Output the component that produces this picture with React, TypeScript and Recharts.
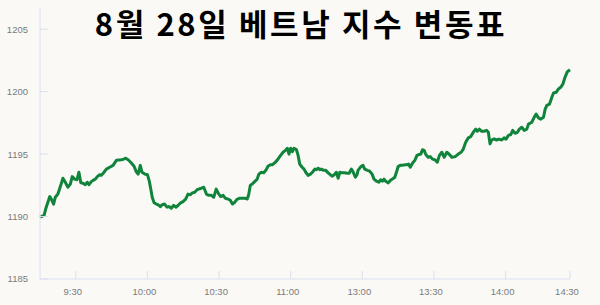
import { Line, LineChart, XAxis, YAxis } from "recharts";

// minutes since 9:15, lunch break collapsed (11:30 == 13:00)
const minutes = [
  0, 1.7, 2.6, 4.1, 5.0, 5.7, 6.4, 7.5, 8.7, 9.6, 10.6, 11.7, 12.7, 13.5, 14.5, 15.5, 16.3, 17.1, 18.0, 19.0,
  19.8, 20.5, 21.5, 22.2, 23.2, 24.0, 25.0, 25.7, 26.8, 27.8, 29.2, 30.6, 32.0,
  34.1, 35.1, 35.9, 36.9, 38.0, 39.4, 40.3, 41.1, 42.0, 42.7, 43.9, 45.0, 45.7, 46.4, 47.0, 47.8, 48.7, 49.4,
  50.4, 51.2, 52.2, 53.2, 54.0, 55.0, 56.0, 56.9, 57.8, 58.9, 59.9, 61.0, 62.0, 63.0, 63.8, 64.8, 65.8,
  67.6, 68.6, 69.7, 70.7, 71.8, 72.8, 73.8, 74.9, 75.7, 76.7, 77.6, 78.8, 79.7, 80.6, 81.6, 82.5, 83.7, 84.8,
  85.8, 86.8, 87.4, 88.1, 88.9, 89.9, 90.9, 91.7, 92.7, 93.7, 94.6, 95.5, 96.5, 97.3, 98.3, 99.3,
  100.8, 101.8, 102.8, 103.6, 104.3, 105.0, 105.7, 106.4, 107.4, 108.1, 108.8, 109.8, 110.6, 111.3, 112.3,
  113.3, 114.1, 115.1, 115.8, 116.5, 117.2, 117.8, 118.8, 119.7, 120.7, 121.6, 122.5, 123.5, 124.1, 124.9,
  125.6, 126.5, 127.7, 128.6, 129.5, 130.4, 131.1, 132.1, 132.8,
  133.2, 134.4, 135.3, 136.0, 137.2, 138.1, 139.1, 139.9, 140.9, 141.9, 142.7, 143.4, 144.1, 144.8, 145.8,
  146.8, 147.6, 148.6, 149.3, 150.0, 150.9, 151.8, 152.8, 153.7, 154.4, 155.1, 156.0, 157.0, 157.9, 158.8,
  159.5, 160.2, 160.9, 161.6, 162.6, 163.5, 164.4, 165.4, 166.4,
  167.3, 168.3, 169.3, 170.4, 171.5, 172.5, 173.9, 175.2, 176.4, 177.3, 178.3, 179.4, 180.4, 181.5, 182.5,
  183.2, 184.0, 185.0, 186.0, 187.1, 187.8, 188.5, 189.2, 190.2, 191.3, 192.3, 193.4, 194.4, 195.2, 196.2,
  197.2, 198.0, 199.0, 200.0, 200.8, 201.8, 202.8, 203.9, 204.6, 206.0, 207.0, 207.8, 208.8, 209.8, 210.9,
  211.6, 212.3, 213.4, 214.4, 215.1, 216.2, 217.1, 218.1, 219.0, 219.9, 220.9, 222.0,
];

const vnIndex = [
  1189.95, 1190.1, 1190.75, 1191.6, 1191.3, 1191.0, 1191.55, 1191.8, 1192.5, 1193.07, 1192.75, 1192.35, 1192.6,
  1193.2, 1193.0, 1192.95, 1193.55, 1192.7, 1192.67, 1192.55, 1192.75, 1192.55, 1192.8, 1192.9, 1193.0, 1193.2,
  1193.35, 1193.3, 1193.55, 1193.8, 1193.95, 1194.1, 1194.5,
  1194.55, 1194.6, 1194.67, 1194.55, 1194.35, 1194.03, 1193.6, 1193.4, 1194.1, 1193.55, 1193.4, 1193.35, 1192.9,
  1192.2, 1191.55, 1191.1, 1191.0, 1190.95, 1190.8, 1190.95, 1191.0, 1190.75, 1190.8, 1190.67, 1190.9, 1190.75,
  1190.88, 1191.1, 1191.2, 1191.4, 1191.8, 1191.75, 1191.9, 1191.95, 1192.15,
  1192.27, 1192.35, 1191.8, 1191.7, 1191.7, 1191.55, 1192.2, 1191.8, 1191.6, 1191.7, 1191.47, 1191.4, 1191.3,
  1191.0, 1191.15, 1191.37, 1191.47, 1191.47, 1191.47, 1191.4, 1191.75, 1192.5, 1192.6, 1192.8, 1192.97, 1193.4,
  1193.55, 1193.5, 1193.7, 1194.03, 1194.15, 1194.15, 1194.3, 1194.5,
  1194.9, 1195.15, 1195.3, 1195.47, 1195.0, 1195.47, 1195.2, 1195.47, 1195.37, 1194.9, 1194.2, 1193.95, 1193.8,
  1193.55, 1193.3, 1193.4, 1193.55, 1193.8, 1193.75, 1193.87, 1193.75, 1193.8, 1193.7, 1193.7, 1193.5, 1193.35,
  1193.23, 1193.4, 1193.55, 1193.07, 1193.55, 1193.5, 1193.5, 1193.47, 1193.47, 1193.8, 1193.6, 1193.15, 1193.35,
  1193.7, 1194.0, 1194.1, 1193.8, 1193.7, 1193.63, 1193.4, 1193.0, 1192.83, 1192.75, 1192.95, 1192.83, 1193.0,
  1192.83, 1192.7, 1192.9, 1193.0, 1193.15, 1193.55, 1194.0, 1194.1, 1194.1, 1194.15, 1194.15, 1194.2, 1193.95,
  1194.27, 1194.5, 1194.9, 1194.97, 1195.0, 1195.35, 1195.3, 1194.97, 1194.75, 1194.8, 1194.6, 1194.55, 1194.35,
  1194.9, 1195.15, 1194.75, 1195.15, 1194.97, 1194.75, 1194.8, 1195.0, 1195.15, 1195.4, 1195.95, 1196.3, 1196.4,
  1196.75, 1197.0, 1196.83, 1197.0, 1196.83, 1196.83, 1196.9, 1196.75, 1195.82, 1196.13, 1196.22, 1196.13, 1196.2,
  1196.13, 1196.3, 1196.2, 1196.5, 1196.57, 1196.9, 1196.67, 1196.75, 1197.0, 1197.15, 1196.9, 1197.0, 1197.4,
  1197.55, 1197.95, 1198.2, 1197.9, 1197.8, 1197.95, 1198.6, 1198.9, 1199.0, 1199.55, 1199.9, 1199.95, 1200.2,
  1200.35, 1200.6, 1201.15, 1201.6, 1201.75,
];

const tickMinutes = [15, 45, 75, 105, 135, 165, 195, 222];
const tickLabels = ["9:30", "10:00", "10:30", "11:00", "13:00", "13:30", "14:00", "14:30"];
const yTicks = [1185, 1190, 1195, 1200, 1205];

const data = minutes.map((m, i) => ({ m, value: vnIndex[i] }));

const BG = "#faf9f5";
const AXIS = "#dbe0f1";
const LABEL = "#7b7b7b";
const GREEN = "#11843b";
const PLOT_LEFT = 40;
const PLOT_BOTTOM = 279;
const tickFont = "'Liberation Sans', Arial, sans-serif";

const XTick = (props: any) => {
  const { x, payload } = props;
  const label = tickLabels[tickMinutes.indexOf(payload.value)];
  return (
    <g>
      <line x1={x} x2={x} y1={PLOT_BOTTOM - 8} y2={PLOT_BOTTOM} stroke={AXIS} />
      <text x={x - 3} y={PLOT_BOTTOM + 16} textAnchor="middle" fontSize={9.5} fontFamily={tickFont} fill={LABEL}>
        {label}
      </text>
    </g>
  );
};

const YTick = (props: any) => {
  const { y, payload } = props;
  return (
    <g>
      <line x1={PLOT_LEFT} x2={PLOT_LEFT + 8} y1={y} y2={y} stroke={AXIS} />
      <text x={28} y={y + 3.4} textAnchor="end" fontSize={9.5} fontFamily={tickFont} fill={LABEL}>
        {payload.value}
      </text>
    </g>
  );
};

export default function App() {
  return (
    <div style={{ position: "absolute", left: 0, top: 0, width: 600, height: 305, background: BG }}>
      <LineChart width={600} height={305} data={data} margin={{ top: 8, right: 30, bottom: 0, left: 0 }}>
        <XAxis
          dataKey="m"
          type="number"
          domain={[0, 222]}
          ticks={tickMinutes}
          height={26}
          tickLine={false}
          axisLine={{ stroke: AXIS }}
          tick={XTick}
          interval={0}
        />
        <YAxis
          type="number"
          domain={[1185, 1206.7]}
          ticks={yTicks}
          width={40}
          allowDataOverflow
          tickLine={false}
          axisLine={{ stroke: AXIS }}
          tick={YTick}
          interval={0}
        />
        <Line
          type="linear"
          dataKey="value"
          stroke={GREEN}
          strokeWidth={3}
          strokeLinejoin="round"
          dot={false}
          isAnimationActive={false}
        />
      </LineChart>
      <svg width={600} height={48} style={{ position: "absolute", left: 0, top: 0 }}>
        <text
          x={301}
          y={36}
          textAnchor="middle"
          fontFamily="'Noto Sans CJK KR', sans-serif"
          fontWeight={700}
          fontSize={31}
          letterSpacing={2.6}
          fill="#000"
        >
          8월 28일 베트남 지수 변동표
        </text>
      </svg>
    </div>
  );
}
